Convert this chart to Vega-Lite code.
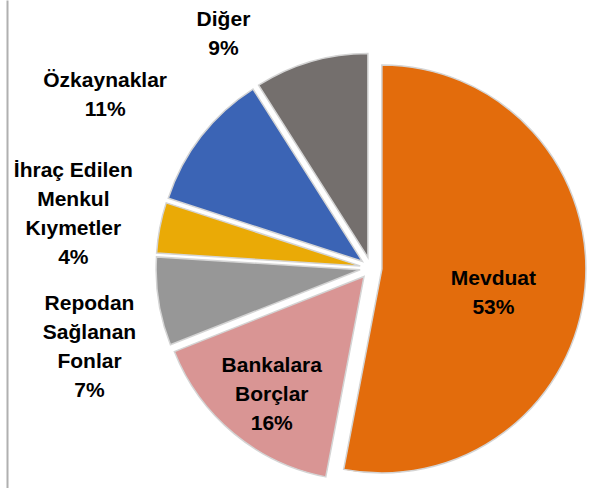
{
  "$schema": "https://vega.github.io/schema/vega-lite/v6.json",
  "width": 420,
  "height": 420,
  "autosize": "none",
  "padding": {"left": 161, "top": 58, "right": 10, "bottom": 10},
  "background": "white",
  "config": {
    "view": {"stroke": null},
    "text": {"font": "Liberation Sans", "fontWeight": "bold", "fontSize": 21, "lineHeight": 29, "color": "black"}
  },
  "data": {
    "values": [
      {"kategori": "Mevduat", "pay": 53, "sira": 1, "etiket": "Mevduat\n53%"},
      {"kategori": "Bankalara Borçlar", "pay": 16, "sira": 2, "etiket": "Bankalara\nBorçlar\n16%"},
      {"kategori": "Repodan Sağlanan Fonlar", "pay": 7, "sira": 3, "etiket": "Repodan\nSağlanan\nFonlar\n7%"},
      {"kategori": "İhraç Edilen Menkul Kıymetler", "pay": 4, "sira": 4, "etiket": "İhraç Edilen\nMenkul\nKıymetler\n4%"},
      {"kategori": "Özkaynaklar", "pay": 11, "sira": 5, "etiket": "Özkaynaklar\n11%"},
      {"kategori": "Diğer", "pay": 9, "sira": 6, "etiket": "Diğer\n9%"}
    ]
  },
  "encoding": {
    "theta": {"field": "pay", "type": "quantitative", "stack": true},
    "order": {"field": "sira", "type": "quantitative"},
    "color": {
      "field": "kategori",
      "type": "nominal",
      "legend": null,
      "scale": {
        "domain": ["Mevduat", "Bankalara Borçlar", "Repodan Sağlanan Fonlar", "İhraç Edilen Menkul Kıymetler", "Özkaynaklar", "Diğer"],
        "range": ["#E36C0C", "#D99594", "#979797", "#EAAA06", "#3B64B5", "#746F6D"]
      }
    }
  },
  "layer": [
    {
      "mark": {"type": "point", "opacity": 0},
      "encoding": {
        "theta": null,
        "y": {
          "field": "pay",
          "type": "quantitative",
          "scale": {"range": [430, -58]},
          "axis": {"domain": true, "domainColor": "#B0B0B0", "domainWidth": 2, "ticks": false, "labels": false, "grid": false, "title": null, "offset": 154}
        }
      }
    },
    {
      "mark": {"type": "arc", "radius": 204, "xOffset": 10.9, "yOffset": 1, "stroke": "#d4d4d4", "strokeWidth": 1.5},
      "encoding": {"opacity": {"condition": {"test": "datum.kategori === 'Mevduat'", "value": 1}, "value": 0}}
    },
    {
      "mark": {"type": "arc", "radius": 204, "xOffset": -7, "yOffset": 8.5, "stroke": "#d4d4d4", "strokeWidth": 1.5},
      "encoding": {"opacity": {"condition": {"test": "datum.kategori === 'Bankalara Borçlar'", "value": 1}, "value": 0}}
    },
    {
      "mark": {"type": "arc", "radius": 204, "xOffset": -10.9, "yOffset": 1.7, "stroke": "#d4d4d4", "strokeWidth": 1.5},
      "encoding": {"opacity": {"condition": {"test": "datum.kategori === 'Repodan Sağlanan Fonlar'", "value": 1}, "value": 0}}
    },
    {
      "mark": {"type": "arc", "radius": 204, "xOffset": -10.8, "yOffset": -2.1, "stroke": "#d4d4d4", "strokeWidth": 1.5},
      "encoding": {"opacity": {"condition": {"test": "datum.kategori === 'İhraç Edilen Menkul Kıymetler'", "value": 1}, "value": 0}}
    },
    {
      "mark": {"type": "arc", "radius": 204, "xOffset": -8.7, "yOffset": -6.7, "stroke": "#d4d4d4", "strokeWidth": 1.5},
      "encoding": {"opacity": {"condition": {"test": "datum.kategori === 'Özkaynaklar'", "value": 1}, "value": 0}}
    },
    {
      "mark": {"type": "arc", "radius": 204, "xOffset": -3.1, "yOffset": -10.6, "stroke": "#d4d4d4", "strokeWidth": 1.5},
      "encoding": {"opacity": {"condition": {"test": "datum.kategori === 'Diğer'", "value": 1}, "value": 0}}
    },
    {
      "mark": {"type": "text", "radius": 123, "dx": 0, "dy": -1, "lineBreak": "\n"},
      "encoding": {"color": {"value": "black"}, "text": {"condition": {"test": "datum.kategori === 'Mevduat'", "field": "etiket", "type": "nominal"}, "value": ""}}
    },
    {
      "mark": {"type": "text", "radius": 140, "dx": -10, "dy": -10, "lineBreak": "\n"},
      "encoding": {"color": {"value": "black"}, "text": {"condition": {"test": "datum.kategori === 'Bankalara Borçlar'", "field": "etiket", "type": "nominal"}, "value": ""}}
    },
    {
      "mark": {"type": "text", "radius": 283, "dx": -2, "dy": -8, "lineBreak": "\n"},
      "encoding": {"color": {"value": "black"}, "text": {"condition": {"test": "datum.kategori === 'Repodan Sağlanan Fonlar'", "field": "etiket", "type": "nominal"}, "value": ""}}
    },
    {
      "mark": {"type": "text", "radius": 300, "dx": -3, "dy": -41, "lineBreak": "\n"},
      "encoding": {"color": {"value": "black"}, "text": {"condition": {"test": "datum.kategori === 'İhraç Edilen Menkul Kıymetler'", "field": "etiket", "type": "nominal"}, "value": ""}}
    },
    {
      "mark": {"type": "text", "radius": 320, "dx": -13, "dy": 9, "lineBreak": "\n"},
      "encoding": {"color": {"value": "black"}, "text": {"condition": {"test": "datum.kategori === 'Özkaynaklar'", "field": "etiket", "type": "nominal"}, "value": ""}}
    },
    {
      "mark": {"type": "text", "radius": 260, "dx": -75, "dy": 2, "lineBreak": "\n"},
      "encoding": {"color": {"value": "black"}, "text": {"condition": {"test": "datum.kategori === 'Diğer'", "field": "etiket", "type": "nominal"}, "value": ""}}
    }
  ]
}
